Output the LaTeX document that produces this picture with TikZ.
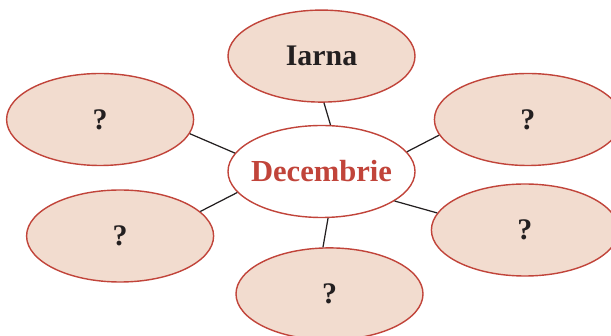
\documentclass[tikz,border=0pt]{standalone}
\usepackage{fontspec}
\setmainfont{Liberation Serif}
\usetikzlibrary{shapes.geometric,positioning}
\definecolor{ovalFill}{HTML}{F2DCCF}
\definecolor{ovalRed}{HTML}{C1443A}
\definecolor{txtDark}{HTML}{231F20}

\begin{document}
\begin{tikzpicture}[
    oval/.style={ellipse,draw=ovalRed,line width=0.8pt,fill=ovalFill,inner sep=0pt,
      minimum width=3.74cm,minimum height=1.84cm,text=txtDark,
      font=\fontsize{17}{20}\selectfont\bfseries},
    spoke/.style={draw=txtDark,line width=0.7pt}]
      \useasboundingbox (0,0) rectangle (12.22,6.7);
      \node[oval,fill=white,text=ovalRed,inner xsep=-0.25cm,
        font=\fontsize{17.4}{20}\selectfont\bfseries] (dec) at (6.43,3.27) {Decembrie};
      \node[oval,above=0.44cm of dec] (iarna) {Iarna};
      \node[oval,below=0.58cm of dec,xshift=0.16cm] (qbot) {?};
      \node[oval,left=0.66cm of dec,yshift=1.04cm] (qtl) {?};
      \node[oval,left=0.26cm of dec,yshift=-1.29cm] (qbl) {?};
      \node[oval,right=0.36cm of dec,yshift=1.04cm] (qtr) {?};
      \node[oval,right=0.3cm of dec,yshift=-1.17cm] (qbr) {?};
      \draw[spoke] (dec.79) -- (iarna.-87);
      \draw[spoke] (dec.-82) -- (qbot.98);
      \draw[spoke] (dec.168) -- (qtl.-9);
      \draw[spoke] (dec.-166) -- (qbl.17);
      \draw[spoke] (dec.13) -- (qtr.-170);
      \draw[spoke] (dec.-22) -- (qbr.169);
    \end{tikzpicture}
\end{document}
